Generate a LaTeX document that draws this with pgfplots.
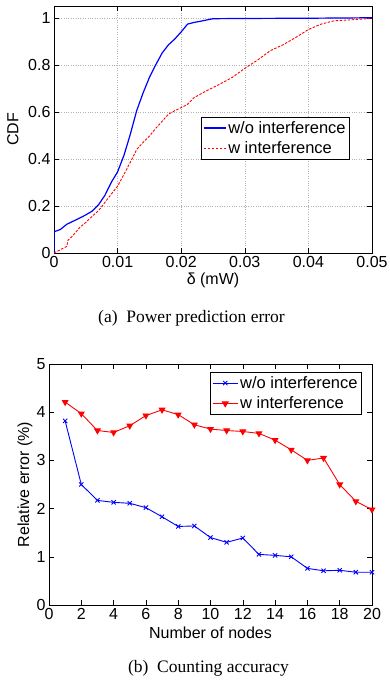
\documentclass[border=0pt]{standalone}
\usepackage{fontspec}
\setmainfont{Liberation Serif}
\newfontfamily\helv{Liberation Sans}
\usepackage{pgfplots}
\pgfplotsset{compat=1.18}
\pgfplotstableread{
x y
0 0
0 0.09
0.001 0.10
0.002 0.122
0.003 0.135
0.004 0.148
0.005 0.162
0.006 0.178
0.007 0.205
0.008 0.245
0.009 0.30
0.010 0.345
0.011 0.415
0.012 0.505
0.013 0.605
0.014 0.68
0.015 0.746
0.016 0.80
0.017 0.85
0.018 0.885
0.019 0.91
0.020 0.94
0.021 0.973
0.022 0.98
0.023 0.985
0.025 0.996
0.030 0.997
0.040 0.998
0.050 1.0
}\wo
\pgfplotstableread{
x y
0 0
0.001 0.014
0.002 0.028
0.0022 0.054
0.003 0.075
0.004 0.107
0.005 0.13
0.006 0.156
0.007 0.18
0.008 0.215
0.009 0.25
0.010 0.284
0.011 0.334
0.012 0.386
0.013 0.44
0.014 0.47
0.015 0.497
0.016 0.53
0.017 0.56
0.018 0.59
0.019 0.605
0.020 0.618
0.021 0.632
0.022 0.66
0.024 0.69
0.026 0.717
0.028 0.746
0.030 0.785
0.032 0.82
0.034 0.86
0.036 0.885
0.038 0.916
0.040 0.95
0.042 0.973
0.044 0.987
0.046 0.99
0.050 0.997
}\wi
\pgfplotstableread{
n a b
1 3.82 4.21
2 2.50 3.97
3 2.17 3.62
4 2.13 3.58
5 2.11 3.72
6 2.02 3.93
7 1.83 4.05
8 1.63 3.95
9 1.64 3.74
10 1.40 3.65
11 1.30 3.62
12 1.39 3.60
13 1.05 3.56
14 1.03 3.42
15 1.00 3.22
16 0.76 3.00
17 0.71 3.05
18 0.72 2.50
19 0.68 2.15
20 0.68 1.98
}\cnt
\begin{document}
\begin{tikzpicture}
\path[use as bounding box] (0pt,0pt) rectangle (389pt,-684pt);
\pgfplotsset{
  every axis/.append style={
    scale only axis,
    font=\helv\fontsize{16}{19}\selectfont,
    /pgf/number format/assume math mode=true,
    tick label style={font=\helv\fontsize{16}{19}\selectfont},
    label style={font=\helv\fontsize{16}{19}\selectfont},
    legend style={font=\helv\fontsize{16.5}{19}\selectfont, draw=black, line width=0.8pt, inner sep=2pt, row sep=3pt},
    axis line style={line width=0.6pt},
    major tick length=5pt,
    tick style={line width=0.5pt, black},
    legend cell align=left,
    scaled ticks=false,
  },
}
\begin{axis}[
  at={(54pt,-253pt)}, anchor=south west,
  width=318pt, height=247pt,
  xmin=0, xmax=0.05, ymin=0, ymax=1.05,
  xtick={0,0.01,0.02,0.03,0.04,0.05},
  xticklabels={0,0.01,0.02,0.03,0.04,0.05},
  ytick={0,0.2,0.4,0.6,0.8,1},
  yticklabels={0,0.2,0.4,0.6,0.8,1},
  grid=major,
  grid style={dotted, gray!60, line width=0.5pt},
  xlabel={δ (mW)},
  ylabel={CDF},
  xlabel style={at={(axis description cs:0.5,-0.11)}, anchor=center},
  ylabel style={at={(axis description cs:-0.129,0.5)}, anchor=center},
  legend style={at={(0.931,0.551)}, anchor=north east},
  legend image code/.code={\draw[#1] (0pt,0pt) -- (22pt,0pt);},
]
\addplot[blue, line width=1.2pt] table[x=x,y=y] {\wo};
\addlegendentry{w/o interference}
\addplot[red, line width=0.9pt, dash pattern=on 2.5pt off 1.5pt] table[x=x,y=y] {\wi};
\addlegendentry{w interference}
\end{axis}
\node[font=\fontsize{17.5}{20}\selectfont] at (191.5pt,-318pt) {(a)\enspace Power prediction error};
\begin{axis}[
  at={(49pt,-605pt)}, anchor=south west,
  width=323pt, height=241pt,
  xmin=0, xmax=20, ymin=0, ymax=5,
  xtick={0,2,...,20},
  ytick={0,1,2,3,4,5},
  xlabel={Number of nodes},
  ylabel={Relative error (\%)},
  xlabel style={at={(axis description cs:0.5,-0.116)}, anchor=center},
  ylabel style={at={(axis description cs:-0.074,0.5)}, anchor=center},
  legend style={at={(0.969,0.967)}, anchor=north east},
  legend image code/.code={\draw[#1] (0pt,0pt) -- (25pt,0pt); \draw[#1,mark repeat=1,mark phase=1] plot coordinates {(12.5pt,0pt)};},
]
\addplot[blue, line width=0.9pt, mark=x, mark size=3pt, mark options={line width=0.9pt}] table[x=n,y=a] {\cnt};
\addlegendentry{w/o interference}
\addplot[red, line width=0.9pt, mark=triangle*, mark size=3.2pt, mark options={rotate=180, fill=red}] table[x=n,y=b] {\cnt};
\addlegendentry{w interference}
\end{axis}
\node[font=\fontsize{17.5}{20}\selectfont] at (208.5pt,-668pt) {(b)\enspace Counting accuracy};
\end{tikzpicture}
\end{document}
